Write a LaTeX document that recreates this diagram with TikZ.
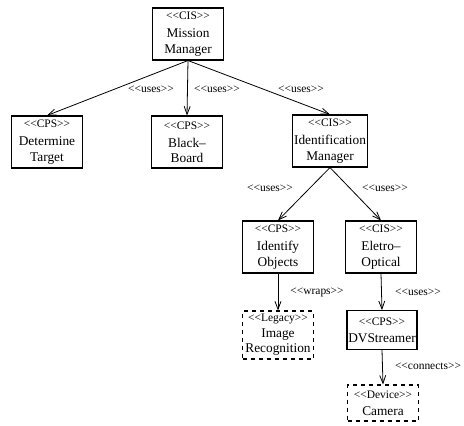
\documentclass[tikz,border=0pt]{standalone}
\usepackage{fontspec}
\setmainfont{Liberation Serif}
\usetikzlibrary{arrows.meta}

\newcommand{\stereo}[1]{{\fontsize{8.6}{10}\selectfont <{}<#1>{}>}}

\tikzset{
  comp/.style={draw, thick, align=center, inner sep=1pt,
    minimum width=53pt, minimum height=39pt, font=\fontsize{10}{11.5}\selectfont},
  ext/.style={comp, dashed},
  rel/.style={-{Straight Barb[length=6pt,width=4.5pt]}, semithick},
  lbl/.style={font=\fontsize{8.6}{10}\selectfont, inner sep=0pt}
}

\begin{document}
\begin{tikzpicture}[x=0.75pt, y=-0.75pt]
  \useasboundingbox (0, 0) rectangle (464, 425);

  % components
  \node[comp] (mission) at (188, 34) {\stereo{CIS}\\[2pt] Mission\\ Manager};
  \node[comp] (target) at (47, 142) {\stereo{CPS}\\[2pt] Determine\\ Target};
  \node[comp] (board) at (187, 142) {\stereo{CPS}\\[2pt] Black\textendash\\ Board};
  \node[comp] (ident) at (330, 141) {\stereo{CIS}\\[2pt] Identification\\ Manager};
  \node[comp] (objects) at (278, 247) {\stereo{CPS}\\[2pt] Identify\\ Objects};
  \node[comp] (optical) at (381, 247) {\stereo{CIS}\\[2pt] Eletro\textendash\\ Optical};
  \node[ext, minimum height=36pt] (recog) at (278, 335) {\stereo{Legacy}\\ Image\\ Recognition};
  \node[comp, minimum width=51pt, minimum height=29pt] (stream) at (382, 330) {\stereo{CPS}\\[1pt] DVStreamer};
  \node[ext, minimum height=27pt] (camera) at (383, 403) {\stereo{Device}\\[1pt] Camera};

  % relations
  \draw[rel] (mission.south) -- (target.north);
  \draw[rel] (mission.south) -- (board.north);
  \draw[rel] (mission.south) -- (ident.north);
  \draw[rel] (ident.south) -- (objects.north);
  \draw[rel] (ident.south) -- (optical.north);
  \draw[rel] (objects.south) -- (recog.north);
  \draw[rel] (optical.south) -- (stream.north);
  \draw[rel] (stream.south) -- (camera.north);

  \node[lbl] (l1) at (151, 89) {\stereo{uses}};
  \node[lbl] (l2) at (217, 89) {\stereo{uses}};
  \node[lbl] (l3) at (301, 89) {\stereo{uses}};
  \node[lbl] (l4) at (270, 188) {\stereo{uses}};
  \node[lbl] (l5) at (385, 188) {\stereo{uses}};
  \node[lbl] (l6) at (317, 292) {\stereo{wraps}};
  \node[lbl] (l7) at (418, 292) {\stereo{uses}};
  \node[lbl] (l8) at (428, 366) {\stereo{connects}};
\end{tikzpicture}
\end{document}
